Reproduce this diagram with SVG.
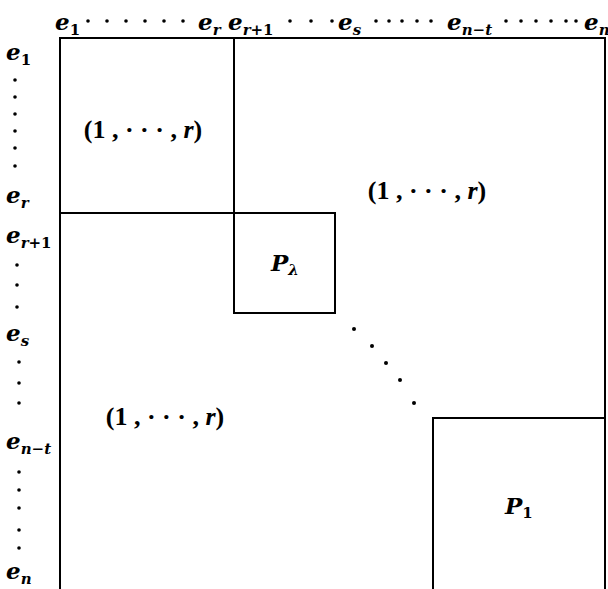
<svg xmlns="http://www.w3.org/2000/svg" width="608" height="589" viewBox="0 0 608 589">
<style>
.ln{stroke:#000;stroke-width:2;fill:none}
.e{font-family:"DejaVu Serif","Liberation Serif",serif;font-weight:bold;font-style:italic;font-size:23px;fill:#000}
.sb{font-size:15px}
.up{font-style:normal}
.lab{font-family:"Liberation Serif","DejaVu Serif",serif;font-weight:bold;font-size:26px;fill:#000;text-anchor:middle}
.d{fill:#000}
</style>
<rect width="608" height="589" fill="#fff"/>
<g id="connectors">
<path class="ln" d="M60,589 V38 H605 V589"/>
<path class="ln" d="M234,38 V213"/>
<path class="ln" d="M60,213 H234"/>
</g>
<g id="block-top-left">
<text class="lab" x="143" y="138">(1 , · · · , <tspan font-style="italic">r</tspan>)</text>
</g>
<g id="block-top-right">
<text class="lab" x="427" y="199">(1 , · · · , <tspan font-style="italic">r</tspan>)</text>
</g>
<g id="block-bottom-left">
<text class="lab" x="165" y="425">(1 , · · · , <tspan font-style="italic">r</tspan>)</text>
</g>
<g id="P-lambda">
<rect class="ln" x="234" y="213" width="101" height="100"/>
<text class="e" x="271" y="271" font-size="27">P<tspan class="sb" dy="4">λ</tspan></text>
</g>
<g id="P-1">
<rect class="ln" x="433" y="418" width="172" height="175"/>
<text class="e" x="505" y="514" font-size="27">P<tspan class="sb up" dy="4">1</tspan></text>
</g>
<g id="diag-dots" class="d">
<circle cx="354" cy="329" r="2"/><circle cx="372" cy="346" r="2"/><circle cx="386" cy="363" r="2"/><circle cx="400" cy="380" r="2"/><circle cx="414" cy="403" r="2"/>
</g>
<g id="top-labels">
<text class="e" x="55" y="30">e<tspan class="sb up" dy="5">1</tspan></text>
<text class="e" x="198" y="30">e<tspan class="sb" dy="5">r</tspan></text>
<text class="e" x="228" y="30">e<tspan class="sb" dy="5">r<tspan class="up">+1</tspan></tspan></text>
<text class="e" x="338" y="30">e<tspan class="sb" dy="5">s</tspan></text>
<text class="e" x="447" y="30">e<tspan class="sb" dy="5">n<tspan class="up">−</tspan>t</tspan></text>
<text class="e" x="584" y="30">e<tspan class="sb" dy="5">n</tspan></text>
<g class="d">
<circle cx="88" cy="21" r="1.8"/><circle cx="107" cy="21" r="1.8"/><circle cx="126" cy="21" r="1.8"/><circle cx="145" cy="21" r="1.8"/><circle cx="164" cy="21" r="1.8"/><circle cx="183" cy="21" r="1.8"/>
<circle cx="290" cy="21" r="1.8"/><circle cx="311" cy="21" r="1.8"/><circle cx="332" cy="21" r="1.8"/>
<circle cx="376" cy="21" r="1.8"/><circle cx="389" cy="21" r="1.8"/><circle cx="402" cy="21" r="1.8"/><circle cx="417" cy="21" r="1.8"/><circle cx="431" cy="21" r="1.8"/>
<circle cx="506" cy="21" r="1.8"/><circle cx="521" cy="21" r="1.8"/><circle cx="536" cy="21" r="1.8"/><circle cx="551" cy="21" r="1.8"/><circle cx="566" cy="21" r="1.8"/><circle cx="576" cy="21" r="1.8"/>
</g>
</g>
<g id="left-labels">
<text class="e" x="6" y="60">e<tspan class="sb up" dy="5">1</tspan></text>
<text class="e" x="6" y="203">e<tspan class="sb" dy="5">r</tspan></text>
<text class="e" x="6" y="243">e<tspan class="sb" dy="5">r<tspan class="up">+1</tspan></tspan></text>
<text class="e" x="6" y="341">e<tspan class="sb" dy="5">s</tspan></text>
<text class="e" x="6" y="449">e<tspan class="sb" dy="5">n<tspan class="up">−</tspan>t</tspan></text>
<text class="e" x="6" y="579">e<tspan class="sb" dy="5">n</tspan></text>
<g class="d">
<circle cx="15" cy="80" r="1.8"/><circle cx="15" cy="97" r="1.8"/><circle cx="15" cy="114" r="1.8"/><circle cx="15" cy="131" r="1.8"/><circle cx="15" cy="148" r="1.8"/><circle cx="15" cy="166" r="1.8"/>
<circle cx="17" cy="265" r="1.8"/><circle cx="17" cy="285" r="1.8"/><circle cx="17" cy="307" r="1.8"/>
<circle cx="19" cy="362" r="1.8"/><circle cx="19" cy="383" r="1.8"/><circle cx="19" cy="403" r="1.8"/>
<circle cx="19" cy="472" r="1.8"/><circle cx="19" cy="490" r="1.8"/><circle cx="19" cy="508" r="1.8"/><circle cx="19" cy="530" r="1.8"/><circle cx="19" cy="548" r="1.8"/>
</g>
</g>
</svg>
